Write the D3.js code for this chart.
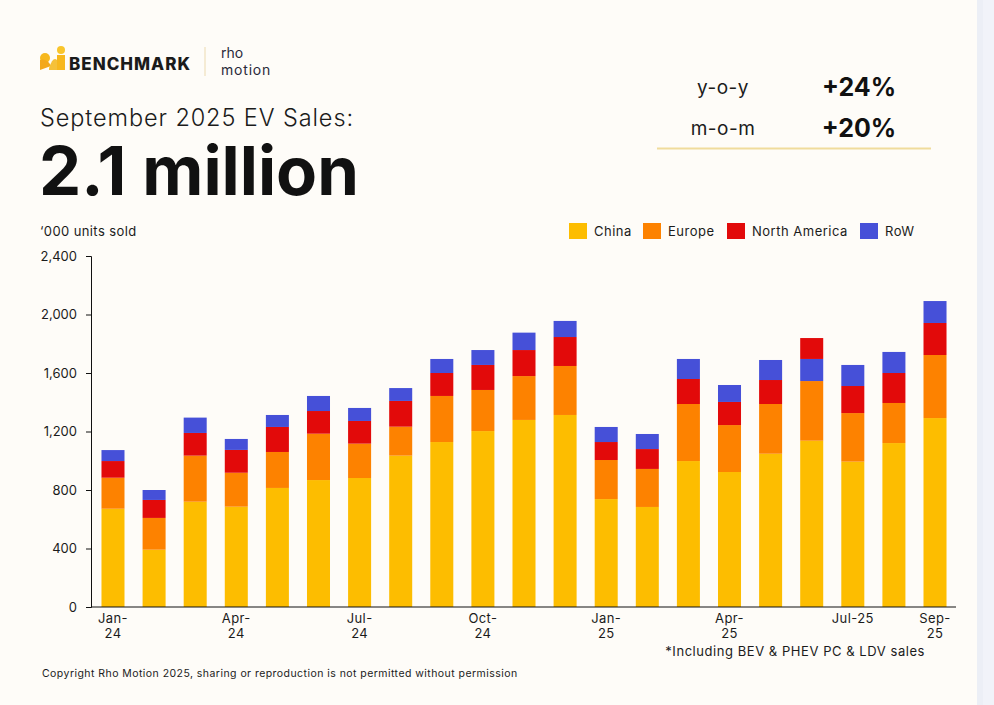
<!DOCTYPE html>
<html>
<head>
<meta charset="utf-8">
<script src="https://cdn.jsdelivr.net/npm/d3@7"></script>
<style>
  html, body { margin: 0; padding: 0; background: #fefcf8; }
  body { width: 994px; height: 705px; overflow: hidden; font-family: Inter, "Noto Sans", sans-serif; }
  .domain { stroke: #111; }
</style>
</head>
<body>
<svg id="chart" width="994" height="705"></svg>
<script>
// Monthly EV sales, '000 units
const months = ["Jan-24","Feb-24","Mar-24","Apr-24","May-24","Jun-24","Jul-24","Aug-24","Sep-24","Oct-24","Nov-24","Dec-24",
                "Jan-25","Feb-25","Mar-25","Apr-25","May-25","Jun-25","Jul-25","Aug-25","Sep-25"];
const china        = [672,392,720,686,814,868,882,1035,1128,1203,1279,1313,738,684,998,923,1048,1137,994,1121,1292];
const europe       = [212,217,315,232,246,317,235,198,315,281,300,335,267,260,390,321,340,408,332,274,431];
const northAmerica = [114,123,155,156,171,155,155,176,157,171,178,198,123,136,171,158,164,143,185,205,219];
const restOfWorld  = [75,68,105,75,82,103,89,88,96,102,119,110,103,103,137,116,137,151,144,144,150];

// in the source, Jun-25 has RoW stacked under North America
const rowBelowNA = ["Jun-25"];

const seriesNames = ["China", "Europe", "North America", "RoW"];
const seriesColors = ["#fdbd00", "#fd8200", "#e20a0a", "#4650d8"];

const yTicks = [0, 400, 800, 1200, 1600, 2000, 2400];
const xTickMonths = ["Jan-24","Apr-24","Jul-24","Oct-24","Jan-25","Apr-25","Jul-25","Sep-25"];
const xTickLines = [["Jan-","24"],["Apr-","24"],["Jul-","24"],["Oct-","24"],["Jan-","25"],["Apr-","25"],["Jul-25"],["Sep-","25"]];

const headline = { sub: "September 2025 EV Sales:", big: "2.1 million" };
const changes = [["y-o-y", "+24%"], ["m-o-m", "+20%"]];

const svg = d3.select("#chart");
const ink = "#1b1b1b";

// right edge strip
svg.append("rect").attr("x", 977).attr("y", 0).attr("width", 17).attr("height", 705).attr("fill", "#f1f3f9");
svg.append("rect").attr("x", 977).attr("y", 0).attr("width", 6).attr("height", 705).attr("fill", "#eceff6");

// logo
const logo = svg.append("g").attr("transform", "translate(40,46)");
logo.append("circle").attr("cx", 5).attr("cy", 12).attr("r", 5).attr("fill", "#f7b81e");
logo.append("path").attr("d", "M0,14 Q7,12 11,20 L0,24 Z").attr("fill", "#f3a81a");
logo.append("path").attr("d", "M9,22 Q13,10 17,14 L17,24 L9,24 Z").attr("fill", "#f5c13a");
logo.append("circle").attr("cx", 21).attr("cy", 4).attr("r", 4).attr("fill", "#f9c52c");
logo.append("rect").attr("x", 17).attr("y", 9).attr("width", 8).attr("height", 15).attr("fill", "#f7b81e");
logo.append("text").attr("x", 29).attr("y", 24).attr("font-size", 17).attr("font-weight", 800)
  .attr("fill", ink).attr("letter-spacing", 1).text("BENCHMARK");
svg.append("line").attr("x1", 205).attr("x2", 205).attr("y1", 47).attr("y2", 76)
  .attr("stroke", "#eee0bd").attr("stroke-width", 1.2);
svg.append("text").attr("x", 221).attr("y", 58).attr("font-size", 14).attr("fill", "#2a2a3a").text("rho");
svg.append("text").attr("x", 221).attr("y", 75).attr("font-size", 14).attr("fill", "#2a2a3a")
  .attr("letter-spacing", 0.8).text("motion");

// headline
svg.append("text").attr("x", 40).attr("y", 126).attr("font-size", 23.5).attr("font-weight", 300)
  .attr("fill", ink).attr("letter-spacing", 0.9).text(headline.sub);
svg.append("text").attr("x", 39).attr("y", 195).attr("font-size", 67).attr("font-weight", 700)
  .attr("fill", "#111").text(headline.big);

// change box
changes.forEach((c, i) => {
  const y = 94 + i * 41;
  svg.append("text").attr("x", 723).attr("y", y).attr("text-anchor", "middle").attr("font-size", 19)
    .attr("fill", ink).attr("letter-spacing", 0.5).text(c[0]);
  svg.append("text").attr("x", 859).attr("y", y + 2).attr("text-anchor", "middle").attr("font-size", 25)
    .attr("font-weight", 700).attr("fill", "#111").text(c[1]);
});
svg.append("line").attr("x1", 657).attr("x2", 931).attr("y1", 148.5).attr("y2", 148.5)
  .attr("stroke", "#f0dc9c").attr("stroke-width", 2);

// units label
svg.append("text").attr("x", 40).attr("y", 236).attr("font-size", 13).attr("fill", ink)
  .attr("letter-spacing", 0.4).text("\u2018000 units sold");

// legend
const legendX = [569, 643, 727, 860];
seriesNames.forEach((name, i) => {
  const g = svg.append("g").attr("transform", `translate(${legendX[i]},223)`);
  g.append("rect").attr("width", 18).attr("height", 16).attr("fill", seriesColors[i]);
  g.append("text").attr("x", 25).attr("y", 12.5).attr("font-size", 13).attr("fill", ink)
    .attr("letter-spacing", 0.5).text(name);
});

// scales
const x = d3.scaleBand().domain(months).range([91, 957]).paddingInner(0.44).paddingOuter(0.255);
const y = d3.scaleLinear().domain([0, 2400]).range([607, 256]);

// bars
const series = [china, europe, northAmerica, restOfWorld];
const barsG = svg.append("g");
months.forEach((m, i) => {
  let order = [0, 1, 2, 3];
  if (rowBelowNA.includes(m)) order = [0, 1, 3, 2];
  let base = 0;
  order.forEach(s => {
    const v = series[s][i];
    barsG.append("rect")
      .attr("x", x(m))
      .attr("width", x.bandwidth())
      .attr("y", y(base + v))
      .attr("height", y(base) - y(base + v))
      .attr("fill", seriesColors[s]);
    base += v;
  });
});

// y axis
const yAxis = svg.append("g").attr("transform", "translate(91,0)")
  .call(d3.axisLeft(y).tickValues(yTicks).tickFormat(d3.format(",")).tickSize(5).tickPadding(9));
yAxis.selectAll("text").attr("font-size", 13).attr("fill", ink).style("font-family", "Inter, 'Noto Sans', sans-serif");
yAxis.selectAll("line").attr("stroke", "#111");

// x axis line
svg.append("line").attr("x1", 91).attr("x2", 956).attr("y1", 607).attr("y2", 607)
  .attr("stroke", "#111").attr("stroke-width", 1.2);

// x tick labels
xTickMonths.forEach((m, i) => {
  const t = svg.append("text").attr("text-anchor", "middle").attr("font-size", 13).attr("fill", ink)
    .attr("letter-spacing", 0.4);
  xTickLines[i].forEach((line, j) => {
    t.append("tspan").attr("x", x(m) + x.bandwidth() / 2).attr("y", 623 + j * 15).text(line);
  });
});

// footnotes
svg.append("text").attr("x", 925).attr("y", 656).attr("text-anchor", "end").attr("font-size", 13)
  .attr("fill", ink).attr("letter-spacing", 0.55).text("*Including BEV & PHEV PC & LDV sales");
svg.append("text").attr("x", 42).attr("y", 677).attr("font-size", 10.5).attr("fill", ink)
  .attr("letter-spacing", 0.45)
  .text("Copyright Rho Motion 2025, sharing or reproduction is not permitted without permission");
</script>
</body>
</html>
